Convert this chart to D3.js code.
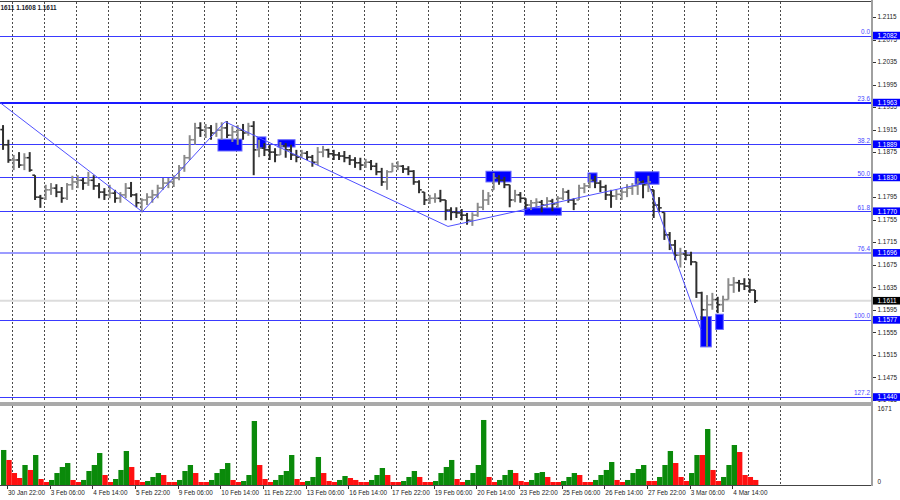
<!DOCTYPE html>
<html><head><meta charset="utf-8">
<script src="https://cdn.jsdelivr.net/npm/d3@7"></script>
<style>
html,body{margin:0;padding:0;background:#fff;}
svg{display:block;font-family:"Liberation Sans",Arial,sans-serif;}
</style></head><body>
<svg id="c" width="900" height="500"></svg>
<script>
// ---------- data (4-hour samples of the H1 chart) ----------
const header = "1611 1.1608 1.1611";
const firstOpen = 1.1915;
const highs = [1.1923,1.1897,1.1870,1.1875,1.1873,1.1875,1.1834,1.1799,1.1817,1.1820,1.1818,1.1813,1.1820,1.1833,1.1834,1.1829,1.1840,1.1834,1.1820,1.1811,
1.1817,1.1808,1.1804,1.1820,1.1822,1.1802,1.1793,1.1802,1.1808,1.1817,1.1829,1.1829,1.1834,1.1852,1.1870,1.1905,1.1927,1.1928,1.1925,1.1923,
1.1927,1.1928,1.1930,1.1921,1.1923,1.1925,1.1927,1.1930,1.1897,1.1891,1.1888,1.1882,1.1893,1.1891,1.1888,1.1879,1.1879,1.1877,1.1870,1.1884,
1.1886,1.1881,1.1879,1.1875,1.1877,1.1870,1.1866,1.1865,1.1863,1.1861,1.1856,1.1847,1.1843,1.1856,1.1859,1.1852,1.1850,1.1843,1.1825,1.1804,
1.1799,1.1802,1.1808,1.1790,1.1777,1.1777,1.1774,1.1767,1.1768,1.1785,1.1808,1.1804,1.1838,1.1834,1.1831,1.1817,1.1808,1.1804,1.1793,1.1790,
1.1793,1.1790,1.1795,1.1792,1.1797,1.1811,1.1808,1.1793,1.1817,1.1820,1.1836,1.1833,1.1825,1.1817,1.1808,1.1808,1.1811,1.1818,1.1820,1.1829,
1.1825,1.1833,1.1808,1.1795,1.1768,1.1733,1.1719,1.1705,1.1701,1.1698,1.1680,1.1627,1.1621,1.1625,1.1618,1.1620,1.1651,1.1653,1.1648,1.1651,
1.1650,1.1630];
const lows = [1.1879,1.1856,1.1843,1.1847,1.1843,1.1840,1.1790,1.1776,1.1790,1.1799,1.1795,1.1785,1.1790,1.1808,1.1811,1.1808,1.1815,1.1808,1.1793,1.1790,
1.1793,1.1785,1.1785,1.1793,1.1795,1.1777,1.1768,1.1781,1.1785,1.1793,1.1808,1.1811,1.1813,1.1825,1.1840,1.1861,1.1888,1.1902,1.1900,1.1897,
1.1902,1.1897,1.1900,1.1893,1.1888,1.1897,1.1904,1.1834,1.1866,1.1868,1.1861,1.1857,1.1870,1.1865,1.1861,1.1857,1.1865,1.1861,1.1849,1.1852,
1.1866,1.1865,1.1861,1.1861,1.1857,1.1852,1.1847,1.1843,1.1847,1.1843,1.1834,1.1815,1.1808,1.1840,1.1843,1.1838,1.1834,1.1817,1.1802,1.1781,
1.1783,1.1785,1.1786,1.1754,1.1754,1.1758,1.1754,1.1746,1.1744,1.1760,1.1772,1.1781,1.1808,1.1817,1.1811,1.1777,1.1786,1.1785,1.1772,1.1772,
1.1776,1.1768,1.1776,1.1770,1.1776,1.1790,1.1785,1.1772,1.1790,1.1802,1.1811,1.1811,1.1804,1.1790,1.1776,1.1790,1.1790,1.1795,1.1799,1.1799,
1.1793,1.1804,1.1758,1.1768,1.1719,1.1701,1.1683,1.1670,1.1683,1.1674,1.1616,1.1577,1.1529,1.1595,1.1589,1.1591,1.1613,1.1625,1.1627,1.1630,
1.1625,1.1607];
const closes = [1.1888,1.1861,1.1861,1.1852,1.1865,1.1843,1.1795,1.1793,1.1808,1.1811,1.1804,1.1793,1.1817,1.1822,1.1825,1.1820,1.1825,1.1815,1.1804,1.1799,
1.1802,1.1793,1.1799,1.1811,1.1799,1.1785,1.1790,1.1795,1.1799,1.1811,1.1820,1.1822,1.1829,1.1847,1.1865,1.1897,1.1918,1.1914,1.1918,1.1909,
1.1914,1.1918,1.1905,1.1911,1.1914,1.1909,1.1921,1.1879,1.1882,1.1879,1.1875,1.1870,1.1886,1.1879,1.1870,1.1866,1.1873,1.1866,1.1857,1.1875,
1.1879,1.1872,1.1870,1.1868,1.1865,1.1861,1.1856,1.1852,1.1857,1.1850,1.1840,1.1822,1.1840,1.1850,1.1850,1.1845,1.1841,1.1822,1.1808,1.1790,
1.1793,1.1793,1.1790,1.1772,1.1768,1.1767,1.1763,1.1754,1.1763,1.1777,1.1790,1.1797,1.1829,1.1825,1.1817,1.1790,1.1799,1.1793,1.1781,1.1785,
1.1786,1.1781,1.1788,1.1783,1.1793,1.1804,1.1790,1.1783,1.1811,1.1815,1.1825,1.1820,1.1813,1.1799,1.1797,1.1800,1.1804,1.1811,1.1815,1.1822,
1.1817,1.1822,1.1781,1.1776,1.1728,1.1710,1.1692,1.1694,1.1692,1.1680,1.1625,1.1595,1.1604,1.1613,1.1604,1.1613,1.1639,1.1643,1.1641,1.1637,
1.1630,1.1611];
const volumes = [760,543,260,152,434,326,651,130,65,109,260,391,477,109,65,109,304,434,694,217,
65,130,326,738,391,109,65,87,174,260,217,65,65,109,304,434,260,65,65,109,
260,347,477,109,65,87,217,1389,434,130,65,109,217,304,651,130,65,87,174,608,
260,87,65,109,195,152,109,65,65,109,217,369,217,65,65,87,174,304,174,65,
65,87,260,391,543,130,65,109,260,434,1411,174,65,109,217,326,260,87,65,109,
260,282,174,65,65,87,174,260,217,65,65,109,217,326,499,109,65,109,260,347,
434,87,87,174,434,738,477,174,87,260,651,651,1215,326,87,174,434,868,716,217,
174,109];
const volMax = 1671;
const dayNames = ["2 Feb","3 Feb","4 Feb","5 Feb","6 Feb","9 Feb","10 Feb","11 Feb","12 Feb","13 Feb","16 Feb","17 Feb","18 Feb",
"19 Feb","20 Feb","23 Feb","24 Feb","25 Feb","26 Feb","27 Feb","2 Mar","3 Mar","4 Mar","5 Mar","6 Mar"];
const timeLabels = ["30 Jan 22:00","3 Feb 06:00","4 Feb 14:00","5 Feb 22:00","9 Feb 06:00","10 Feb 14:00","11 Feb 22:00","13 Feb 06:00",
"16 Feb 14:00","17 Feb 22:00","19 Feb 06:00","20 Feb 14:00","23 Feb 22:00","25 Feb 06:00","26 Feb 14:00","27 Feb 22:00","3 Mar 06:00","4 Mar 14:00"];
const priceTicks = [1.2115,1.2075,1.2035,1.1995,1.1955,1.1915,1.1875,1.1795,1.1755,1.1715,1.1675,1.1635,1.1595,1.1555,1.1515,1.1475,1.1435];
const fibLevels = ["0.0","23.6","38.2","50.0","61.8","76.4","100.0","127.2"];
const fibPrices = [1.2082,1.1963,1.1889,1.1830,1.1770,1.1696,1.1577,1.1440];
const boxStart = [162.7,192,207.7,363.7,392.5,440.2,475.5,524.7,536];
const boxEnd   = [180.7,198.7,220.5,382.5,420.2,447,493.5,532.7,541.7];
const boxTop   = [1.1898,1.1902,1.1897,1.1841,1.1776,1.1838,1.1840,1.1583,1.1587];
const boxBottom= [1.1877,1.1882,1.1884,1.1822,1.1763,1.1822,1.1818,1.1529,1.1560];
const zigIdx   = [-0.8,105.95,168,335.2,485.2,525];
const zigPrice = [1.1963,1.1769,1.1929,1.1743,1.1821,1.1559];
const lastPrice = 1.1611;

// ---------- layout ----------
const R = 872, mainTop = 2, mainBot = 402, volTop = 406, volBot = 485;
const FS = 6.4, TAGH = 3.8;
const svg = d3.select("#c");
const x = d3.scaleLinear().domain([8, 584]).range([11.7, 779.7]);
const y = d3.scaleLinear().domain([1.1440, 1.2115]).range([397, 17]);
const yv = d3.scaleLinear().domain([0, volMax]).range([volBot, 408]);
const fmt = d3.format(".4f");

const defs = svg.append("defs");
defs.append("clipPath").attr("id","cm").append("rect").attr("x",0).attr("y",mainTop).attr("width",R).attr("height",mainBot-mainTop);
defs.append("clipPath").attr("id","cv").append("rect").attr("x",0).attr("y",volTop).attr("width",R).attr("height",volBot-volTop);

svg.append("rect").attr("width",900).attr("height",500).attr("fill","#fff");

// vertical daily grid
const gGrid = svg.append("g");
dayNames.forEach((d,i)=>{
  const gx = Math.round(x(8+24*i))+0.5;
  [[mainTop,mainBot],[volTop,volBot]].forEach(([a,b])=>{
    gGrid.append("line").attr("x1",gx).attr("x2",gx).attr("y1",a).attr("y2",b)
      .attr("stroke","#4a4a4a").attr("stroke-width",1).attr("stroke-dasharray","2,2");
  });
});

const gMain = svg.append("g").attr("clip-path","url(#cm)");
gMain.append("line").attr("x1",0).attr("x2",R).attr("y1",y(lastPrice)).attr("y2",y(lastPrice))
  .attr("stroke","#dcdcdc").attr("stroke-width",2);
const fibStyle = {"23.6":{c:"#1a1aff",w:2},"76.4":{c:"#9c9cff",w:2}};
fibLevels.forEach((lv,i)=>{
  const st = fibStyle[lv] || {c:"#3a3aff",w:1};
  const py = Math.round(y(fibPrices[i])) + (st.w===1?0.5:0);
  gMain.append("line").attr("x1",0).attr("x2",R).attr("y1",py).attr("y2",py)
    .attr("stroke",st.c).attr("stroke-width",st.w);
});
boxStart.forEach((s,i)=>{
  gMain.append("rect").attr("x",x(s)).attr("y",y(boxTop[i]))
    .attr("width",x(boxEnd[i])-x(s)).attr("height",y(boxBottom[i])-y(boxTop[i]))
    .attr("fill","#0000ff").attr("stroke","#6a6aff").attr("stroke-width",1);
});
let prev = firstOpen;
const gBars = gMain.append("g");
highs.forEach((h,k)=>{
  const l = lows[k], c = closes[k];
  const o = Math.min(h, Math.max(l, prev));
  prev = c;
  const cx = x(4*k+1.5);
  const col = c >= o ? "#8a8a8a" : "#2f2f2f";
  gBars.append("line").attr("x1",cx).attr("x2",cx).attr("y1",y(h)).attr("y2",y(l))
    .attr("stroke",col).attr("stroke-width",2);
  gBars.append("line").attr("x1",cx-2.7).attr("x2",cx).attr("y1",y(o)).attr("y2",y(o))
    .attr("stroke",col).attr("stroke-width",1.6);
  gBars.append("line").attr("x1",cx).attr("x2",cx+2.7).attr("y1",y(c)).attr("y2",y(c))
    .attr("stroke",col).attr("stroke-width",1.6);
});
gMain.append("path").datum(zigIdx.map((t,i)=>[t,zigPrice[i]]))
  .attr("d", d3.line().x(d=>x(d[0])).y(d=>y(d[1])))
  .attr("fill","none").attr("stroke","#5050ff").attr("stroke-width",1);

fibLevels.forEach((lv,i)=>{
  svg.append("text").attr("x",870).attr("y",y(fibPrices[i])-1.6).attr("text-anchor","end")
    .attr("font-size",FS).attr("fill","#4646ff").text(lv);
});

const gVol = svg.append("g").attr("clip-path","url(#cv)");
volumes.forEach((v,k)=>{
  const up = k===0 || v > volumes[k-1];
  gVol.append("rect").attr("x",x(4*k)).attr("width",x(4*k+4)-x(4*k))
    .attr("y",yv(v)).attr("height",volBot-yv(v))
    .attr("fill", up ? "#0a8a0a" : "#ff1010");
});

// frames
svg.append("line").attr("x1",0).attr("x2",R).attr("y1",1.5).attr("y2",1.5).attr("stroke","#444").attr("stroke-width",1);
svg.append("line").attr("x1",0).attr("x2",R).attr("y1",403).attr("y2",403).attr("stroke","#555").attr("stroke-width",1);
svg.append("rect").attr("x",0).attr("y",403.5).attr("width",R).attr("height",2.5).attr("fill","#a9a9a9");
svg.append("line").attr("x1",0).attr("x2",R+1).attr("y1",485.5).attr("y2",485.5).attr("stroke","#444").attr("stroke-width",1);
svg.append("rect").attr("x",871).attr("y",0).attr("width",2).attr("height",486).attr("fill","#a0a0a0");

// price axis: tick labels partly hidden by a tag only show the part below the tag
const tagYs = fibPrices.concat([lastPrice]).map(p=>y(p));
priceTicks.forEach((p,i)=>{
  const py = y(p);
  svg.append("line").attr("x1",873).attr("x2",876).attr("y1",Math.round(py)+0.5).attr("y2",Math.round(py)+0.5).attr("stroke","#333");
  const t = svg.append("text").attr("x",877.5).attr("y",py+2.3).attr("font-size",FS).attr("fill","#222").text(fmt(p));
  const hit = tagYs.find(ty => Math.abs(ty-py) < 6.5);
  if (hit !== undefined) {
    const top = hit + TAGH;
    defs.append("clipPath").attr("id","tc"+i).append("rect")
      .attr("x",873).attr("y",top).attr("width",27).attr("height",Math.max(0, py+3.5-top));
    t.attr("clip-path","url(#tc"+i+")");
  }
});
fibPrices.forEach(p=>{
  const py = y(p);
  svg.append("rect").attr("x",873).attr("y",py-TAGH).attr("width",27).attr("height",2*TAGH).attr("fill","#0000ff");
  svg.append("text").attr("x",877.5).attr("y",py+2.3).attr("font-size",FS).attr("fill","#fff").text(fmt(p));
});
{
  const py = y(lastPrice);
  svg.append("rect").attr("x",873).attr("y",py-TAGH).attr("width",27).attr("height",2*TAGH).attr("fill","#000");
  svg.append("text").attr("x",877.5).attr("y",py+2.3).attr("font-size",FS).attr("fill","#fff").text(fmt(lastPrice));
}
[[volMax,String(volMax)],[0,"0"]].forEach(([v,t])=>{
  const py = v===0 ? 482 : 409;
  svg.append("text").attr("x",877.5).attr("y",py+2.3).attr("font-size",FS).attr("fill","#222").text(t);
});

// time axis
timeLabels.forEach((t,i)=>{
  const tx = x(6+32*i);
  svg.append("line").attr("x1",Math.round(tx-2)+0.5).attr("x2",Math.round(tx-2)+0.5).attr("y1",486).attr("y2",489).attr("stroke","#333");
  svg.append("text").attr("x",tx-1).attr("y",495.2).attr("font-size",FS).attr("fill","#222").text(t);
});

svg.append("text").attr("x",0.5).attr("y",9.5).attr("font-size",FS).attr("fill","#1a1a2a").attr("font-weight","bold").text(header);
</script>
</body></html>
